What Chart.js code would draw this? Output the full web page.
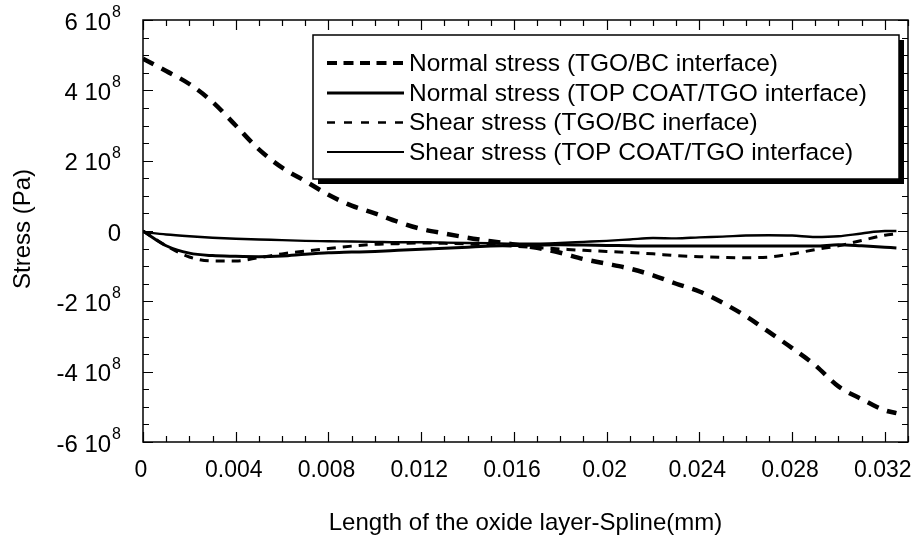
<!DOCTYPE html>
<html>
<head>
<meta charset="utf-8">
<script src="https://cdn.jsdelivr.net/npm/chart.js@4/dist/chart.umd.min.js"></script>
<style>
  html, body { margin: 0; padding: 0; background: #fff; }
  #wrap { width: 916px; height: 550px; }
</style>
</head>
<body>
<div id="wrap"><canvas id="c" width="916" height="550"></canvas></div>
<script>
// Position along the oxide layer spline (mm)
const lengthMm = [0, 0.001, 0.002, 0.003, 0.004, 0.005, 0.006, 0.007, 0.008, 0.009,
  0.010, 0.011, 0.012, 0.013, 0.014, 0.015, 0.016, 0.017, 0.018, 0.019,
  0.020, 0.021, 0.022, 0.023, 0.024, 0.025, 0.026, 0.027, 0.028, 0.029,
  0.030, 0.031, 0.032, 0.0325];

// Stresses in units of 10^8 Pa
const normalTgoBc = [4.90, 4.55, 4.18, 3.67, 3.00, 2.32, 1.80, 1.42, 1.03, 0.72,
  0.50, 0.26, 0.06, -0.07, -0.19, -0.29, -0.38, -0.48, -0.62, -0.80,
  -0.93, -1.07, -1.26, -1.50, -1.72, -2.04, -2.42, -2.87, -3.33, -3.82,
  -4.42, -4.78, -5.10, -5.18];
const normalTopTgo = [0.00, -0.42, -0.63, -0.70, -0.72, -0.73, -0.71, -0.66, -0.62, -0.60,
  -0.58, -0.55, -0.52, -0.49, -0.46, -0.43, -0.41, -0.40, -0.39, -0.40,
  -0.41, -0.42, -0.43, -0.43, -0.43, -0.43, -0.43, -0.43, -0.43, -0.43,
  -0.39, -0.42, -0.46, -0.48];
const shearTgoBc = [0.00, -0.42, -0.74, -0.85, -0.85, -0.76, -0.65, -0.57, -0.50, -0.43,
  -0.38, -0.36, -0.34, -0.35, -0.37, -0.40, -0.43, -0.47, -0.51, -0.55,
  -0.58, -0.61, -0.65, -0.70, -0.73, -0.75, -0.76, -0.74, -0.65, -0.53,
  -0.42, -0.27, -0.12, -0.08];
const shearTopTgo = [-0.03, -0.10, -0.15, -0.19, -0.22, -0.24, -0.26, -0.28, -0.29, -0.30,
  -0.31, -0.32, -0.32, -0.33, -0.34, -0.35, -0.36, -0.36, -0.34, -0.31,
  -0.28, -0.24, -0.20, -0.21, -0.18, -0.16, -0.13, -0.12, -0.13, -0.17,
  -0.15, -0.07, 0.00, 0.00];

const seriesLabels = [
  'Normal stress (TGO/BC interface)',
  'Normal stress (TOP COAT/TGO interface)',
  'Shear stress (TGO/BC inerface)',
  'Shear stress (TOP COAT/TGO interface)'
];

const xMajorTicks = [0, 0.004, 0.008, 0.012, 0.016, 0.02, 0.024, 0.028, 0.032];
const xMinorStep = 0.001;
const yMajorTicks = [6, 4, 2, 0, -2, -4, -6];   // mantissa of n·10^8
const yMinorStep = 0.5;
const yExponent = '8';
const xTitle = 'Length of the oxide layer-Spline(mm)';
const yTitle = 'Stress (Pa)';

const FONT = '"Liberation Sans", Arial, Helvetica, sans-serif';

const toPoints = ys => lengthMm.map((x, i) => ({ x, y: ys[i] }));

// line styles: plot dash pattern and the shorter pattern used in the key
const styles = [
  { borderWidth: 4.5, borderDash: [12, 9], keyWidth: 4, keyDash: [10, 6.5] },
  { borderWidth: 3, borderDash: [], keyWidth: 3, keyDash: [] },
  { borderWidth: 3, borderDash: [9, 7], keyWidth: 2.5, keyDash: [8, 9] },
  { borderWidth: 2.4, borderDash: [], keyWidth: 2.2, keyDash: [] }
];
const seriesValues = [normalTgoBc, normalTopTgo, shearTgoBc, shearTopTgo];

const datasets = seriesValues.map((ys, i) => ({
  label: seriesLabels[i],
  data: toPoints(ys),
  borderColor: '#000',
  backgroundColor: '#000',
  borderWidth: styles[i].borderWidth,
  borderDash: styles[i].borderDash,
  borderCapStyle: 'butt',
  borderJoinStyle: 'round',
  pointRadius: 0,
  fill: false,
  cubicInterpolationMode: 'monotone'
}));

// Frame, inward ticks, tick labels, axis titles and boxed legend
const framePlugin = {
  id: 'frameAxes',
  afterDraw(chart) {
    const { ctx, chartArea: a, scales } = chart;
    const xs = scales.x, ys = scales.y;
    ctx.save();
    ctx.strokeStyle = '#000';
    ctx.fillStyle = '#000';

    // frame
    ctx.lineWidth = 1.5;
    ctx.strokeRect(a.left, a.top, a.right - a.left, a.bottom - a.top);

    // ticks (inward on all four sides)
    const MAJ = 10, MIN = 6;
    ctx.lineWidth = 1.2;
    ctx.beginPath();
    const isMajor = (v, list) => list.some(t => Math.abs(t - v) < 1e-9);
    for (let k = 0; ; k++) {
      const v = +(k * xMinorStep).toFixed(6);
      if (v > xs.max + 1e-9) break;
      const px = Math.round(xs.getPixelForValue(v)) + 0.5;
      const len = isMajor(v, xMajorTicks) ? MAJ : MIN;
      ctx.moveTo(px, a.bottom); ctx.lineTo(px, a.bottom - len);
      ctx.moveTo(px, a.top); ctx.lineTo(px, a.top + len);
    }
    for (let v = ys.min; v <= ys.max + 1e-9; v += yMinorStep) {
      const py = Math.round(ys.getPixelForValue(v)) + 0.5;
      const len = isMajor(v, yMajorTicks) ? MAJ : MIN;
      ctx.moveTo(a.left, py); ctx.lineTo(a.left + len, py);
      ctx.moveTo(a.right, py); ctx.lineTo(a.right - len, py);
    }
    ctx.stroke();

    // x tick labels
    ctx.font = '23px ' + FONT;
    ctx.textAlign = 'center';
    ctx.textBaseline = 'middle';
    xMajorTicks.forEach(v => {
      const label = v === 0 ? '0' : String(+v.toFixed(3));
      ctx.fillText(label, xs.getPixelForValue(v) - 2, 471);
    });

    // y tick labels: "n 10^8"
    const R = 121;
    yMajorTicks.forEach(v => {
      const py = ys.getPixelForValue(v);
      if (v === 0) {
        ctx.font = '24px ' + FONT;
        ctx.textAlign = 'right';
        ctx.textBaseline = 'middle';
        ctx.fillText('0', R, py + 3);
        return;
      }
      ctx.font = '16px ' + FONT;
      const w8 = ctx.measureText(yExponent).width;
      ctx.textAlign = 'left';
      ctx.textBaseline = 'alphabetic';
      ctx.fillText(yExponent, R - w8, py - 3);
      ctx.font = '24px ' + FONT;
      ctx.textAlign = 'right';
      ctx.textBaseline = 'middle';
      ctx.fillText(v + ' 10', R - w8 - 1, py + 3);
    });

    // axis titles
    ctx.font = '24px ' + FONT;
    ctx.textAlign = 'center';
    ctx.textBaseline = 'middle';
    ctx.fillText(xTitle, (a.left + a.right) / 2, 523);
    ctx.save();
    ctx.translate(23, 229);
    ctx.rotate(-Math.PI / 2);
    ctx.fillText(yTitle, 0, 0);
    ctx.restore();

    // legend box with drop shadow
    const L = { x: 313, y: 35, w: 586, h: 144, sh: 5 };
    ctx.fillStyle = '#000';
    ctx.fillRect(L.x + L.sh, L.y + L.sh, L.w, L.h);
    ctx.fillStyle = '#fff';
    ctx.fillRect(L.x, L.y, L.w, L.h);
    ctx.lineWidth = 1.5;
    ctx.strokeStyle = '#000';
    ctx.strokeRect(L.x, L.y, L.w, L.h);

    const rowY = [63, 93, 122.5, 152];
    chart.data.datasets.forEach((ds, i) => {
      const y = rowY[i];
      ctx.save();
      ctx.lineWidth = styles[i].keyWidth;
      ctx.setLineDash(styles[i].keyDash);
      ctx.lineCap = 'butt';
      ctx.beginPath();
      ctx.moveTo(327, y);
      ctx.lineTo(404, y);
      ctx.stroke();
      ctx.restore();
      ctx.fillStyle = '#000';
      ctx.font = '24.5px ' + FONT;
      ctx.textAlign = 'left';
      ctx.textBaseline = 'middle';
      ctx.fillText(ds.label, 409, y + 1);
    });
    ctx.restore();
  }
};

new Chart(document.getElementById('c'), {
  type: 'line',
  data: { datasets },
  options: {
    responsive: false,
    animation: false,
    events: [],
    layout: { padding: { left: 143, top: 20, right: 8, bottom: 108 } },
    scales: {
      x: { type: 'linear', min: 0, max: 0.033, display: false },
      y: { type: 'linear', min: -6, max: 6, display: false }
    },
    plugins: { legend: { display: false }, tooltip: { enabled: false } }
  },
  plugins: [framePlugin]
});
</script>
</body>
</html>
